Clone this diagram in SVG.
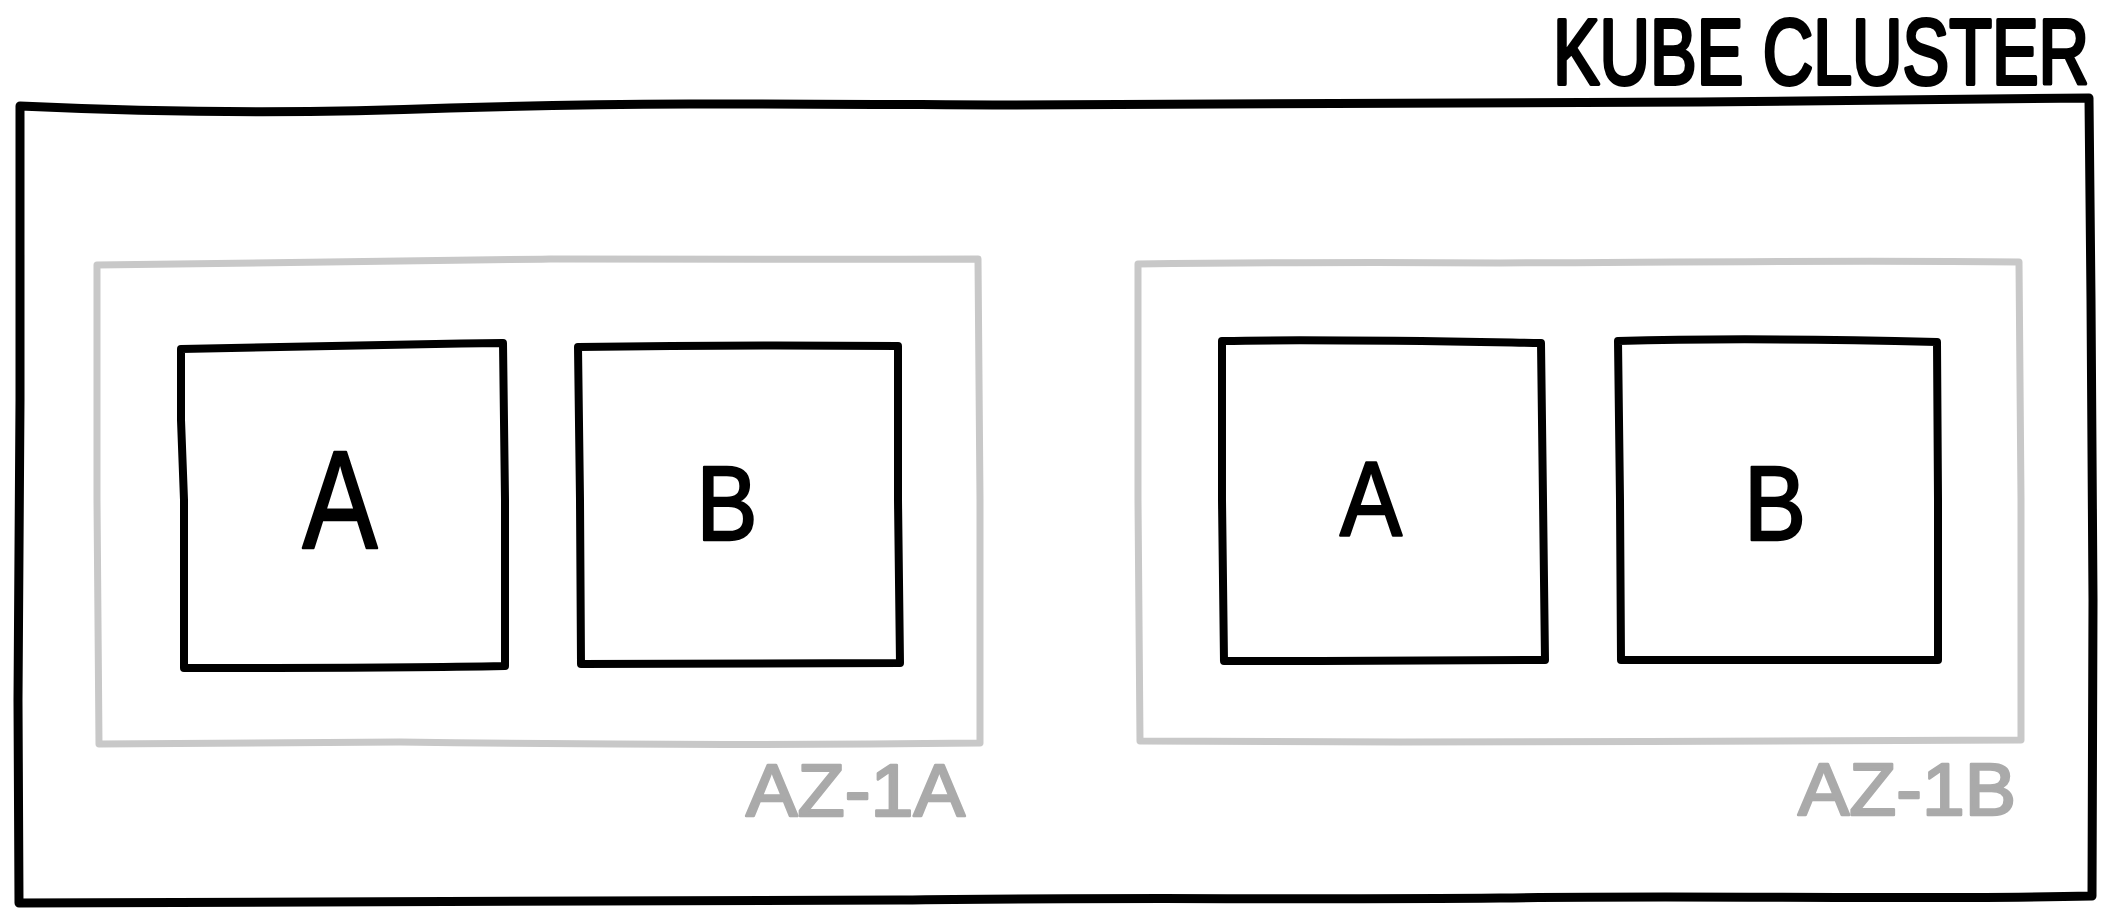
<svg xmlns="http://www.w3.org/2000/svg" width="2107" height="909" viewBox="0 0 2107 909">
  <style>
    .ink { fill: none; stroke: #000; stroke-width: 9; stroke-linejoin: round; stroke-linecap: round; }
    .box { fill: none; stroke: #000; stroke-width: 8; stroke-linejoin: round; stroke-linecap: round; }
    .zone { fill: none; stroke: #c8c8c8; stroke-width: 7; stroke-linejoin: round; stroke-linecap: round; }
    .title { font-family: "Liberation Sans", Arial, sans-serif; font-size: 70px; fill: #000; stroke: #000; stroke-width: 3; stroke-linejoin: round; }
    .letter { font-family: "Liberation Sans", Arial, sans-serif; fill: #000; text-anchor: middle; stroke: #000; stroke-width: 2.5; stroke-linejoin: round; }
    .zlabel { font-family: "Liberation Sans", Arial, sans-serif; font-size: 74px; fill: #aaaaaa; stroke: #aaaaaa; stroke-width: 2.5; stroke-linejoin: round; }
  </style>
  <rect x="0" y="0" width="2107" height="909" fill="#fff"/>

  <g id="cluster">
    <path class="ink" d="M20,106 C 150,112 300,114 450,108 C 650,102 800,104 1000,105 C 1300,104 1500,101 1700,102 C 1900,100 2000,100 2089,98 L 2091,300 L 2093,600 L 2092,896 C 1900,900 1700,895 1500,898 C 1300,900 1100,897 900,900 C 600,903 300,901 19,903 L 18,700 L 20,400 Z"/>
    <text class="title" transform="matrix(1,0,0,1.3143,0,-26.4)" x="1553" y="84" textLength="536" lengthAdjust="spacingAndGlyphs">KUBE CLUSTER</text>
  </g>

  <g id="az-1a">
    <path class="zone" d="M97,265 C 250,262 400,262 550,259 C 750,258 850,260 978,259 L 980,500 L 980,743 C 800,745 600,745 400,742 C 250,743 150,744 99,744 L 97,500 Z"/>
    <text class="zlabel" x="746" y="816" textLength="219" lengthAdjust="spacingAndGlyphs">AZ-1A</text>
  </g>

  <g id="az-1b">
    <path class="zone" d="M1138,264 C 1300,262 1400,262 1500,263 C 1700,262 1850,260 2019,262 L 2021,500 L 2021,740 C 1850,742 1600,741 1400,742 C 1300,741 1200,742 1140,741 L 1138,500 Z"/>
    <text class="zlabel" x="1798" y="815" textLength="218" lengthAdjust="spacingAndGlyphs">AZ-1B</text>
  </g>

  <g id="node-a1">
    <path class="box" d="M181,349 C 300,347 400,344 503,343 L 505,500 L 505,666 C 400,668 300,668 184,668 L 184,500 L 181,420 Z"/>
    <text class="letter" x="340" y="548" font-size="140" textLength="75" lengthAdjust="spacingAndGlyphs">A</text>
  </g>

  <g id="node-b1">
    <path class="box" d="M578,347 C 700,345 800,345 898,346 L 898,500 L 900,663 C 800,663 700,664 581,664 L 580,500 Z"/>
    <text class="letter" x="727" y="540" font-size="106" textLength="61" lengthAdjust="spacingAndGlyphs">B</text>
  </g>

  <g id="node-a2">
    <path class="box" d="M1222,341 C 1320,339 1420,341 1541,343 L 1543,500 L 1545,660 C 1420,661 1330,661 1224,661 L 1222,500 Z"/>
    <text class="letter" x="1371" y="535" font-size="105" textLength="62" lengthAdjust="spacingAndGlyphs">A</text>
  </g>

  <g id="node-b2">
    <path class="box" d="M1618,341 C 1720,338 1820,339 1937,342 L 1938,500 L 1938,660 C 1820,660 1720,659 1621,660 L 1620,500 Z"/>
    <text class="letter" x="1775" y="540" font-size="106" textLength="62" lengthAdjust="spacingAndGlyphs">B</text>
  </g>

  <g id="connectors"></g>
</svg>
